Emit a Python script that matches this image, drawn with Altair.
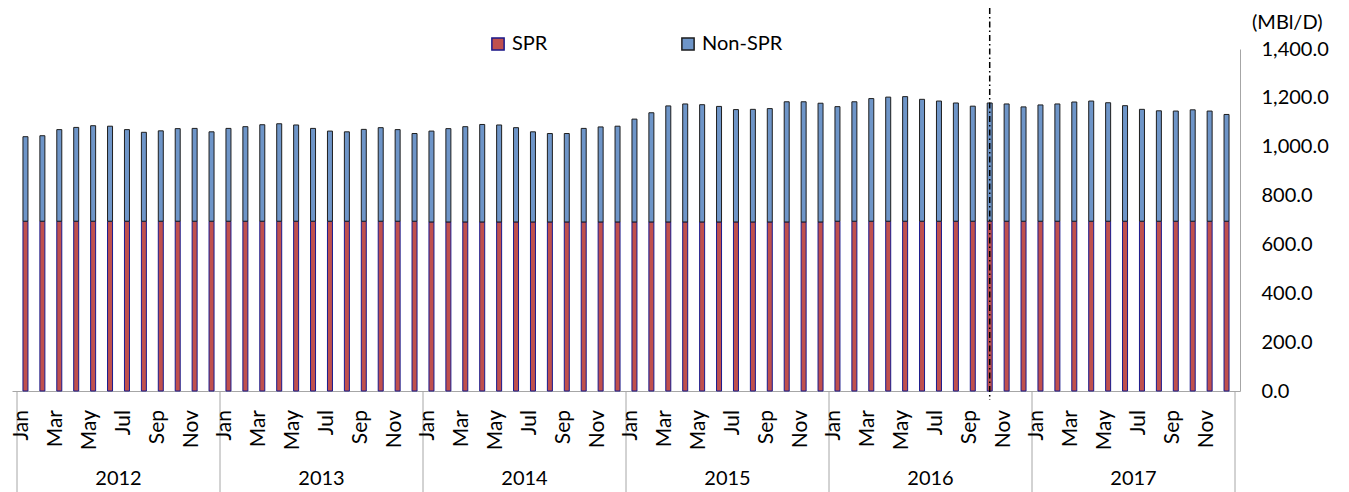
import altair as alt
import pandas as pd

years = ["2012", "2013", "2014", "2015", "2016", "2017"]
months = ["Jan", "Feb", "Mar", "Apr", "May", "Jun", "Jul", "Aug", "Sep", "Oct", "Nov", "Dec"]

spr = [
    695, 695, 695, 695, 695, 695, 695, 695, 695, 695, 695, 695,
    695, 695, 695, 695, 695, 695, 695, 695, 695, 695, 695, 695,
    692, 692, 692, 692, 692, 692, 692, 692, 692, 692, 692, 692,
    692, 692, 692, 692, 692, 692, 692, 692, 692, 692, 692, 692,
    695, 695, 695, 695, 695, 695, 695, 695, 695, 695, 695, 695,
    695, 695, 695, 695, 695, 695, 695, 695, 695, 695, 695, 695,
]
non_spr = [
    346, 350, 375, 384, 391, 389, 375, 364, 370, 379, 380, 366,
    380, 387, 395, 399, 394, 380, 369, 366, 376, 383, 375, 359,
    372, 382, 390, 399, 397, 386, 369, 362, 362, 383, 389, 392,
    421, 447, 475, 483, 480, 473, 460, 461, 464, 492, 492, 486,
    469, 489, 502, 508, 510, 499, 492, 484, 471, 484, 480, 468,
    476, 480, 488, 492, 485, 473, 458, 452, 451, 456, 451, 437,
]
marker_month = ("2016", "Oct")
unit_label = "(MBl/D)"
series_names = ["SPR", "Non-SPR"]
series_colors = ["#C0504D", "#6E95C8"]
series_strokes = ["#1A1A8C", "#1E1E1E"]

FONT = "Lato"
FS = 20

rows = []
mrows = []
for i in range(72):
    y = years[i // 12]
    m = months[i % 12]
    rows.append({"pos": i + 0.5, "year": y, "month": m, "series": "SPR", "ord": 0, "value": spr[i]})
    rows.append({"pos": i + 0.5, "year": y, "month": m, "series": "Non-SPR", "ord": 1, "value": non_spr[i]})
    mrows.append({"pos": i + 0.5, "year": y, "month": m, "show": (i % 2 == 0),
                  "marker": (y, m) == marker_month})
df = pd.DataFrame(rows)
dm = pd.DataFrame(mrows)
dy = pd.DataFrame({"year": years, "mid": [12 * k + 6 for k in range(6)]})
db = pd.DataFrame({"b": [12 * k for k in range(7)]})
du = pd.DataFrame({"t": [unit_label]})

xscale = alt.Scale(domain=[0, 72], nice=False, zero=False)

legend_kw = dict(title=None, orient="none", direction="horizontal",
                 legendX=476, legendY=-15, symbolType="square",
                 symbolSize=150, labelFont=FONT, labelFontSize=FS,
                 labelColor="#000000", columnPadding=130, labelOffset=4,
                 padding=0)

bars = alt.Chart(df).mark_bar(size=5, strokeWidth=1).encode(
    x=alt.X("pos:Q", scale=xscale,
            axis=alt.Axis(labels=False, ticks=False, grid=False, title=None,
                          domainColor="#A6A6A6", domainWidth=1)),
    y=alt.Y("value:Q", stack="zero",
            scale=alt.Scale(domain=[0, 1400], nice=False),
            axis=alt.Axis(orient="right", values=list(range(0, 1401, 200)), format=",.1f",
                          ticks=False, tickSize=0, grid=False, title=None,
                          domainColor="#A6A6A6", labelPadding=21,
                          labelFont=FONT, labelFontSize=FS, labelColor="#000000")),
    color=alt.Color("series:N", scale=alt.Scale(domain=series_names, range=series_colors),
                    legend=alt.Legend(**legend_kw)),
    stroke=alt.Stroke("series:N", scale=alt.Scale(domain=series_names, range=series_strokes),
                      legend=alt.Legend(**legend_kw)),
    order=alt.Order("ord:Q"),
)

month_labels = alt.Chart(dm).transform_filter("datum.show").mark_text(
    angle=270, align="right", baseline="middle", font=FONT, fontSize=FS + 1,
    color="#000000", dy=-3
).encode(x=alt.X("pos:Q", scale=xscale), y=alt.value(361), text="month:N")

year_labels = alt.Chart(dy).mark_text(
    align="center", baseline="middle", font=FONT, fontSize=FS, color="#000000"
).encode(x=alt.X("mid:Q", scale=xscale), y=alt.value(430), text="year:N")

separators = alt.Chart(db).mark_rule(color="#A6A6A6", strokeWidth=1).encode(
    x=alt.X("b:Q", scale=xscale), y=alt.value(342), y2=alt.value(448)
)

marker = alt.Chart(dm).transform_filter("datum.marker").mark_rule(
    color="#000000", strokeWidth=1.5, strokeDash=[6, 3, 1.5, 3]
).encode(x=alt.X("pos:Q", scale=xscale), y=alt.value(-41), y2=alt.value(351))

unit = alt.Chart(du).mark_text(
    align="left", baseline="middle", font=FONT, fontSize=FS, color="#000000"
).encode(x=alt.value(1240), y=alt.value(-26), text="t:N")

chart = alt.layer(bars, separators, marker, month_labels, year_labels, unit).properties(
    width=1228, height=342,
    padding={"left": 4, "top": 41, "right": 101, "bottom": 101},
    autosize=alt.AutoSizeParams(type="none"),
    background="#FFFFFF",
).configure_view(stroke=None)

chart.save("out.html", embed_options={"renderer": "svg", "actions": False})
